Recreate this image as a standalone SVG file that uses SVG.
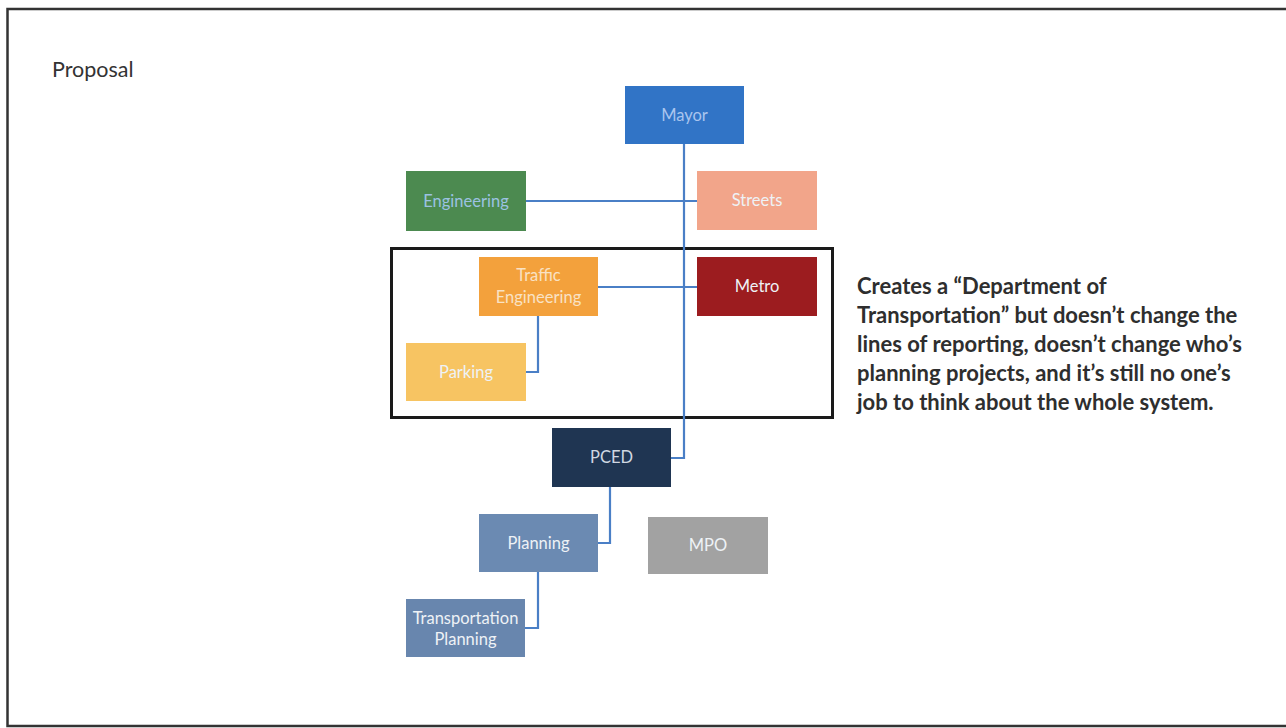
<svg xmlns="http://www.w3.org/2000/svg" width="1286" height="728" viewBox="0 0 1286 728">
<style>
.lbl{font-family:Lato,"Open Sans","Liberation Sans",sans-serif;font-size:16.5px;text-anchor:middle;fill:#eef2f6}
.note{font-family:Lato,"Open Sans","Liberation Sans",sans-serif;font-size:22px;font-weight:bold;fill:#2e2e2e}
.conn{fill:none;stroke:#4a7fc6;stroke-width:2.2}
</style>
<rect width="1286" height="728" fill="#ffffff"/>
<path d="M1290,9 H7.5 V726 H1290" fill="none" stroke="#333" stroke-width="2.5"/>
<text x="52" y="77" font-family="Lato,'Open Sans','Liberation Sans',sans-serif" font-size="21.5" fill="#333">Proposal</text>
<rect x="391.5" y="248.5" width="441" height="169" fill="none" stroke="#1a1a1a" stroke-width="3"/>
<g id="connectors">
<path class="conn" d="M684,144 V458 H671"/>
<path class="conn" d="M526,201 H697"/>
<path class="conn" d="M598,287 H697"/>
<path class="conn" d="M538,316 V372 H526"/>
<path class="conn" d="M610,487 V543 H598"/>
<path class="conn" d="M538,572 V628 H525"/>
</g>
<g id="mayor"><rect x="625" y="86" width="119" height="58" fill="#3174c6"/><text class="lbl" x="684.5" y="121" style="fill:#a9c5ee">Mayor</text></g>
<g id="engineering"><rect x="406" y="171" width="120" height="60" fill="#4c8a50"/><text class="lbl" x="466" y="207" style="fill:#9cc2e2">Engineering</text></g>
<g id="streets"><rect x="697" y="171" width="120" height="59" fill="#f2a58a"/><text class="lbl" x="757" y="206">Streets</text></g>
<g id="traffic-engineering"><rect x="479" y="257" width="119" height="59" fill="#f3a13c"/><text class="lbl" x="538.5" y="281" style="fill:#f9e2c4">Traffic</text><text class="lbl" x="538.5" y="303" style="fill:#f9e2c4">Engineering</text></g>
<g id="metro"><rect x="697" y="257" width="120" height="59" fill="#9c1c1f"/><text class="lbl" x="757" y="292">Metro</text></g>
<g id="parking"><rect x="406" y="343" width="120" height="58" fill="#f7c462"/><text class="lbl" x="466" y="378">Parking</text></g>
<g id="pced"><rect x="552" y="428" width="119" height="59" fill="#1f3552"/><text class="lbl" x="611.5" y="463" style="fill:#d0d8e2">PCED</text></g>
<g id="planning"><rect x="479" y="514" width="119" height="58" fill="#6b8ab2"/><text class="lbl" x="538.5" y="549">Planning</text></g>
<g id="mpo"><rect x="648" y="517" width="120" height="57" fill="#a2a2a2"/><text class="lbl" x="708" y="551">MPO</text></g>
<g id="transportation-planning"><rect x="406" y="599" width="119" height="58" fill="#6886ae"/><text class="lbl" x="465.5" y="624">Transportation</text><text class="lbl" x="465.5" y="645">Planning</text></g>
<g id="note">
<text class="note" x="857" y="294">Creates a “Department of</text>
<text class="note" x="857" y="323">Transportation” but doesn’t change the</text>
<text class="note" x="857" y="352">lines of reporting, doesn’t change who’s</text>
<text class="note" x="857" y="381">planning projects, and it’s still no one’s</text>
<text class="note" x="857" y="410">job to think about the whole system.</text>
</g>
</svg>
